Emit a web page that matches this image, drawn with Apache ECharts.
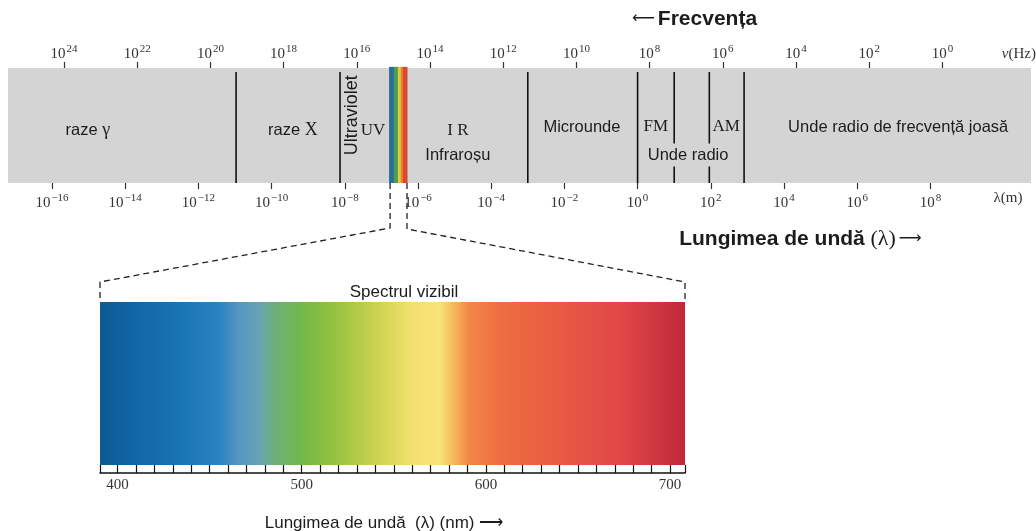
<!DOCTYPE html>
<html>
<head>
<meta charset="utf-8">
<title>Spectrul electromagnetic</title>
<script src="https://cdn.jsdelivr.net/npm/echarts@6.0.0/dist/echarts.min.js"></script>
<style>
  html, body { margin: 0; padding: 0; background: #fff; }
  #chart { width: 1036px; height: 531px; }
</style>
</head>
<body>
<div id="chart"></div>
<script>
// exponents (log10) on the band axes
const lambdaTicks = [-16, -14, -12, -10, -8, -6, -4, -2, 0, 2, 4, 6, 8];
const freqTicks = [24, 22, 20, 18, 16, 14, 12, 10, 8, 6, 4, 2, 0];
// borders between regions, log10 of wavelength in m
const borders = [-10.97, -8.13, -3.0, 0, 1.0, 1.96, 2.91];
// region names, their place on the lambda axis and height in the band (0..1)
const regionNames = ["raze γ", "raze X", "Ultraviolet", "UV", "IR", "Infraroșu", "Microunde", "FM", "AM", "Unde radio", "Unde radio de frecvență joasă"];
const regionLambda = [-15.02, -9.42, -7.80, -7.23, -4.91, -4.91, -1.52, 0.50, 2.42, 1.38, 7.12];
const regionHeight = [0.46, 0.46, 0.59, 0.46, 0.46, 0.243, 0.487, 0.487, 0.487, 0.243, 0.487];
// small visible strip in the band
const stripEdges = [-6.79, -6.66, -6.55, -6.47, -6.41, -6.30];
const stripColors = ["#2b6f98", "#4c9c52", "#dccb42", "#ea7b32", "#d9482f"];
// visible spectrum, nm
const nmTicks = [400, 410, 420, 430, 440, 450, 460, 470, 480, 490, 500, 510, 520, 530, 540, 550,
  560, 570, 580, 590, 600, 610, 620, 630, 640, 650, 660, 670, 680, 690, 700];
const nmLabels = [400, 500, 600, 700];
const visWl = [390, 410, 435, 455, 466, 477, 485, 499, 515, 532, 548, 559, 575, 583, 591, 608, 640, 673, 708];
const visColor = ["#0d5a94", "#1166a6", "#1a75b4", "#2a84c0", "#5596c2", "#68a4b6", "#6cb07a", "#70b84c",
  "#90c040", "#b8cc48", "#dcd858", "#f2e070", "#fae37a", "#f6b45a", "#f28648", "#ee6e40", "#e85a42", "#e04848", "#c0283a"];

const lamMin = -17.202, lamMax = 10.749;
const nuMin = -2.421, nuMax = 25.53;
const nmMin = 390.5, nmMax = 708.1;

const serif = "'Liberation Serif', 'DejaVu Serif', serif";
const sans = "'Liberation Sans', Arial, sans-serif";
const ink = "#1c1c1c";
const bandGray = "#d4d4d4";

function powLabel(v) {
  const e = v < 0 ? "\u2212" + (-v) : "" + v;
  return "{b|10}{s|" + e + "}";
}
const powRich = {
  b: { fontFamily: serif, fontSize: 15, color: "#333", padding: [5, 0, 0, 0] },
  s: { fontFamily: serif, fontSize: 11, color: "#333", padding: [0, 0, 5, 1] },
  u: { fontFamily: serif, fontSize: 15, color: "#333" },
  i: { fontFamily: serif, fontSize: 15, color: "#333", fontStyle: "italic" }
};

const myChart = echarts.init(document.getElementById("chart"));

function regionText(name) {
  const base = { fill: ink, align: "center", verticalAlign: "middle", textAlign: "center", textVerticalAlign: "middle" };
  if (name === "raze γ" || name === "raze X") {
    base.text = "{a|raze }{g|" + name.slice(5) + "}";
    base.rich = {
      a: { fontFamily: sans, fontSize: 16.5, fill: ink, color: ink },
      g: { fontFamily: serif, fontSize: 18, fill: ink, color: ink }
    };
  } else if (["UV", "IR", "FM", "AM"].indexOf(name) >= 0) {
    base.text = name === "IR" ? "I R" : name;
    base.fontFamily = serif;
    base.fontSize = 17;
  } else {
    base.text = name;
    base.fontFamily = sans;
    base.fontSize = name === "Ultraviolet" ? 18 : 16.5;
  }
  if (name === "Unde radio") {
    base.backgroundColor = bandGray;
    base.padding = [3, 2];
  }
  return base;
}

myChart.setOption({
  animation: false,
  grid: [
    { left: 8, top: 68, width: 1023, height: 115, show: true, backgroundColor: bandGray, borderWidth: 0, outerBoundsMode: "none" },
    { left: 100, top: 302, width: 585, height: 171, show: false, outerBoundsMode: "none" }
  ],
  xAxis: [
    {
      gridIndex: 0, type: "value", position: "bottom", min: lamMin, max: lamMax,
      axisLine: { show: false }, splitLine: { show: false },
      axisTick: { show: true, customValues: lambdaTicks, length: 6, lineStyle: { color: "#333", width: 1.2 } },
      axisLabel: {
        customValues: lambdaTicks.concat([10.12]), margin: 8, rich: powRich,
        formatter: function (v) { return v > 9 ? "{u|λ(m)}" : powLabel(v); }
      }
    },
    {
      gridIndex: 0, type: "value", position: "top", inverse: true, min: nuMin, max: nuMax,
      axisLine: { show: false }, splitLine: { show: false },
      axisTick: { show: true, customValues: freqTicks, length: 6, lineStyle: { color: "#333", width: 1.2 } },
      axisLabel: {
        customValues: freqTicks.concat([-2.09]), margin: 6, rich: powRich,
        formatter: function (v) { return v < -1 ? "{i|ν}{u|(Hz)}" : powLabel(v); }
      }
    },
    {
      gridIndex: 1, type: "value", position: "bottom", min: nmMin, max: nmMax, z: 10,
      axisLine: { show: true, lineStyle: { color: "#111", width: 1.5 } },
      splitLine: { show: false },
      axisTick: { show: true, inside: true, length: 8, customValues: [nmMin].concat(nmTicks, [nmMax]), lineStyle: { color: "#111", width: 1.2 } },
      axisLabel: { customValues: nmLabels, margin: 5, fontFamily: serif, fontSize: 15, color: "#333" }
    }
  ],
  yAxis: [
    { gridIndex: 0, type: "value", min: 0, max: 1, show: false },
    { gridIndex: 1, type: "value", min: 0, max: 1, show: false }
  ],
  series: [
    {
      // visible strip inside the band
      type: "custom", xAxisIndex: 0, yAxisIndex: 0, silent: true,
      data: stripColors.map(function (c, i) { return [stripEdges[i], stripEdges[i + 1], i]; }),
      renderItem: function (params, api) {
        const p0 = api.coord([api.value(0), 1.01]);
        const p1 = api.coord([api.value(1), 0]);
        return { type: "rect", shape: { x: p0[0], y: p0[1], width: p1[0] - p0[0] + 0.5, height: p1[1] - p0[1] },
          style: { fill: stripColors[api.value(2)] } };
      }
    },
    {
      // region borders
      type: "custom", xAxisIndex: 0, yAxisIndex: 0, silent: true,
      data: borders.map(function (b) { return [b, 0]; }),
      renderItem: function (params, api) {
        const p0 = api.coord([api.value(0), 0]);
        const p1 = api.coord([api.value(0), 0.965]);
        return { type: "line", shape: { x1: p0[0], y1: p0[1], x2: p1[0], y2: p1[1] },
          style: { stroke: "#111", lineWidth: 1.6 } };
      }
    },
    {
      // region names
      type: "custom", xAxisIndex: 0, yAxisIndex: 0, silent: true, z: 5,
      data: regionNames.map(function (n, i) { return [regionLambda[i], regionHeight[i], i]; }),
      renderItem: function (params, api) {
        const p = api.coord([api.value(0), api.value(1)]);
        const name = regionNames[api.value(2)];
        return { type: "text", x: p[0], y: p[1], rotation: name === "Ultraviolet" ? Math.PI / 2 : 0,
          style: regionText(name) };
      }
    },
    {
      // visible spectrum, leaving a white strip above the nm axis for the ticks
      type: "custom", xAxisIndex: 2, yAxisIndex: 1, silent: true,
      data: [[nmMin, nmMax]],
      renderItem: function (params, api) {
        const p0 = api.coord([api.value(0), 1]);
        const p1 = api.coord([api.value(1), 0]);
        const w = p1[0] - p0[0];
        const stops = visWl.map(function (wl, i) {
          const x = api.coord([wl, 0])[0];
          return { offset: Math.min(1, Math.max(0, (x - p0[0]) / w)), color: visColor[i] };
        });
        return { type: "rect", shape: { x: p0[0], y: p0[1], width: w, height: p1[1] - p0[1] - 8 },
          style: { fill: new echarts.graphic.LinearGradient(0, 0, 1, 0, stops) } };
      }
    }
  ]
});

// connectors from the small strip to the visible spectrum
const yb = myChart.convertToPixel({ yAxisIndex: 0 }, 0);
const bl = myChart.convertToPixel({ xAxisIndex: 0 }, stripEdges[0]);
const br = myChart.convertToPixel({ xAxisIndex: 0 }, stripEdges[stripEdges.length - 1]);
const sl = myChart.convertToPixel({ xAxisIndex: 2 }, nmMin);
const sr = myChart.convertToPixel({ xAxisIndex: 2 }, nmMax);
const st = myChart.convertToPixel({ yAxisIndex: 1 }, 1);

function dashed(points) {
  return { type: "polyline", shape: { points: points }, silent: true,
    style: { stroke: "#222", lineWidth: 1.3, lineDash: [6, 4], fill: null } };
}
function caption(text, x, y, size, weight, family, rich) {
  return { type: "text", x: x, y: y, silent: true,
    style: { text: text, fontSize: size, fontWeight: weight, fontFamily: family, rich: rich, fill: ink,
      align: "center", verticalAlign: "middle", textAlign: "center", textVerticalAlign: "middle" } };
}
const arrowRich = {
  ar: { fontFamily: "'DejaVu Sans', sans-serif", fontSize: 16, fontWeight: "normal", fill: ink, padding: [0, 3, 0, 3] },
  t: { fontFamily: sans, fontSize: 21, fontWeight: "bold", fill: ink },
  l: { fontFamily: serif, fontSize: 22, fontWeight: "normal", fill: ink }
};

myChart.setOption({
  graphic: [
    dashed([[bl + 1, yb], [bl + 1, yb + 45], [sl, st - 20], [sl, st - 3]]),
    dashed([[br, yb], [br, yb + 46], [sr, st - 20], [sr, st - 3]]),
    caption("{ar|⟵}{t|Frecvența}", 693, 19, 20, "bold", sans, arrowRich),
    caption("{t|Lungimea de undă }{l|(λ)}{ar|⟶}", 802, 239, 20, "bold", sans, arrowRich),
    caption("Spectrul vizibil", 404, 292, 17, "normal", sans),
    caption("Lungimea de undă  (λ) (nm) ⟶", 384, 523, 17, "normal", "'Liberation Sans Narrow', " + sans)
  ]
});
</script>
</body>
</html>
